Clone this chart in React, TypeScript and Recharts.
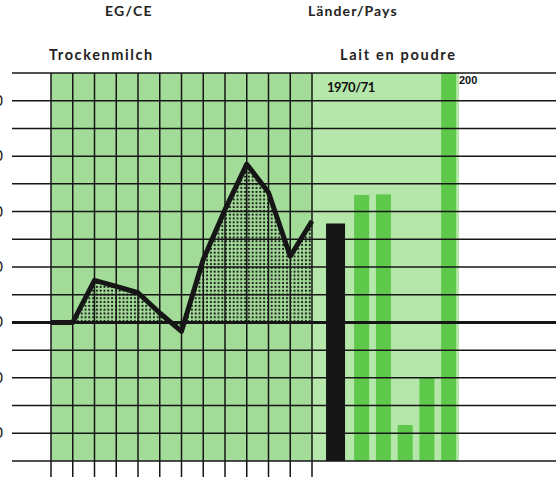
import { ComposedChart, Area, Line, Bar, XAxis, YAxis, ReferenceArea, ReferenceLine } from "recharts";

// Trockenmilch index, EG/CE, one point per marketing year
const years = ["1958/59", "1959/60", "1960/61", "1961/62", "1962/63", "1963/64", "1964/65", "1965/66", "1966/67", "1967/68", "1968/69", "1969/70", "1970/71"];
const milkIndex = [100, 100, 115.2, 113, 110.7, 103.4, 96.8, 122.7, 140.7, 157.1, 146.9, 123.9, 136.6];

// Länder/Pays 1970/71
const countries = ["EG/CE", "D", "F", "I", "NL", "UEBL/BLEU"];
const countryValues = [135.7, 146, 146.2, 63, 80, 200];

const yTicks = [50, 60, 70, 80, 90, 100, 110, 120, 130, 140, 150, 160, 170, 180, 190];
const yLabels = [60, 80, 100, 120, 140, 160, 180];

const W = 556;
const H = 484;
const LINE = "#161616";
const GREEN_L = "#a3dc99";
const GREEN_R = "#b6e7aa";
const GREEN_BAR = "#5ec84a";

const data = [
  ...years.map((y, i) => ({ x: i, year: y, index: milkIndex[i] })),
  ...countries.map((c, i) => ({ x: i === 0 ? 13.1 : 13.3 + i, name: c, value: countryValues[i] })),
];

const YTick = (props: any) => {
  const { y, payload } = props;
  if (!yLabels.includes(payload.value)) return null;
  return (
    <text x={3} y={y} dy={5} textAnchor="end" fontSize={15} fill={LINE} fontFamily="Lato, sans-serif">
      {payload.value}
    </text>
  );
};

const BarShape = (props: any) => {
  const { x, y, width, height, payload } = props;
  if (height == null || height <= 0) return null;
  const isEc = payload && payload.name === countries[0];
  const w = isEc ? width : 15;
  const fill = isEc ? LINE : GREEN_BAR;
  return <rect x={x + (width - w) / 2} y={y} width={w} height={height} fill={fill} />;
};

const title: React.CSSProperties = {
  position: "absolute",
  fontFamily: "Lato, sans-serif",
  fontWeight: 700,
  color: "#222",
  whiteSpace: "nowrap",
  lineHeight: 1,
};

export default function App() {
  return (
    <div style={{ position: "absolute", left: 0, top: 0, width: W, height: H, background: "#fff", overflow: "hidden" }}>
      <ComposedChart width={W} height={H} data={data} margin={{ top: 73, right: 0, bottom: 0, left: 0 }}>
        <defs>
          <pattern id="dots" width={3.8} height={3.8} patternUnits="userSpaceOnUse">
            <circle cx={1.9} cy={1.9} r={1.1} fill={LINE} />
          </pattern>
        </defs>
        <XAxis
          type="number"
          dataKey="x"
          domain={[-1.793, 23.218]}
          allowDataOverflow
          ticks={years.map((_, i) => i)}
          tick={() => <g />}
          tickSize={16}
          tickLine={{ stroke: LINE, strokeWidth: 1.5 }}
          axisLine={false}
          height={23}
        />
        <YAxis
          type="number"
          domain={[50, 190]}
          allowDataOverflow
          ticks={yTicks}
          tick={<YTick />}
          tickLine={false}
          axisLine={false}
          width={12}
        />
        <ReferenceArea x1={0} x2={12} fill={GREEN_L} fillOpacity={1} ifOverflow="hidden" />
        <ReferenceArea x1={12} x2={18.76} fill={GREEN_R} fillOpacity={1} ifOverflow="hidden" />
        <Area
          dataKey="index"
          type="linear"
          baseValue={100}
          stroke="none"
          fill="url(#dots)"
          fillOpacity={1}
          isAnimationActive={false}
        />
        <Bar dataKey="value" barSize={19} shape={<BarShape />} isAnimationActive={false} />
        {yTicks.map((t) => (
          <ReferenceLine key={`h${t}`} y={t} stroke={LINE} strokeWidth={t === 100 ? 3 : 1.5} />
        ))}
        {years.map((_, i) => (
          <ReferenceLine key={`v${i}`} x={i} stroke={LINE} strokeWidth={1.5} />
        ))}
        <Line
          dataKey="index"
          type="linear"
          stroke={LINE}
          strokeWidth={5}
          strokeLinejoin="round"
          dot={false}
          isAnimationActive={false}
        />
      </ComposedChart>
      <div style={{ ...title, left: 105, top: 4, fontSize: 14, letterSpacing: 1.2 }}>EG/CE</div>
      <div style={{ ...title, left: 308, top: 4, fontSize: 14, letterSpacing: 1.1 }}>Länder/Pays</div>
      <div style={{ ...title, left: 49, top: 48, fontSize: 14.5, letterSpacing: 1.6 }}>Trockenmilch</div>
      <div style={{ ...title, left: 340, top: 48, fontSize: 14.5, letterSpacing: 1.7 }}>Lait en poudre</div>
      <div style={{ ...title, left: 327, top: 81, fontSize: 13, letterSpacing: -0.5, color: "#111" }}>1970/71</div>
      <div style={{ ...title, left: 459, top: 75, fontSize: 11, fontWeight: 700, fontFamily: "'Liberation Sans', Arial, sans-serif", color: "#111" }}>
        200
      </div>
    </div>
  );
}
